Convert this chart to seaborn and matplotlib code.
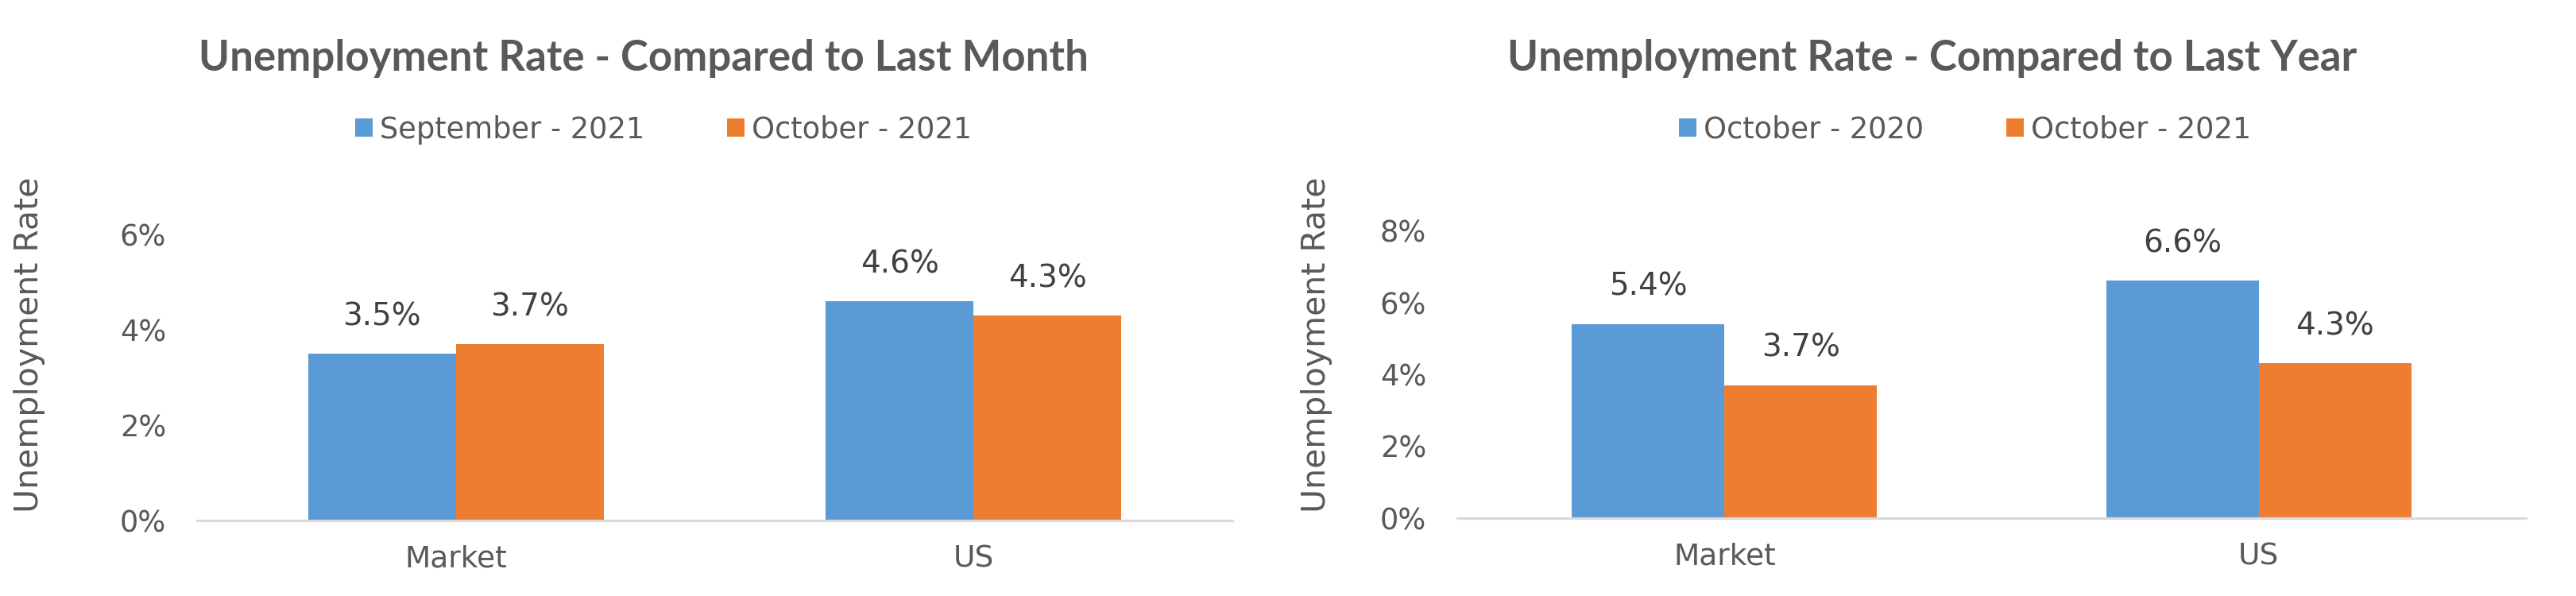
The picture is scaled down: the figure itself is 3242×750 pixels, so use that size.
import numpy as np
import pandas as pd
import matplotlib
matplotlib.use("Agg")
import matplotlib.pyplot as plt
import seaborn as sns

# data (percent)
areas = ["Market", "US"]

month_title = "Unemployment Rate - Compared to Last Month"
month_periods = ["September - 2021", "October - 2021"]
month_prev = [3.5, 4.6]
month_curr = [3.7, 4.3]
month_ticks = [0, 2, 4, 6]

year_title = "Unemployment Rate - Compared to Last Year"
year_periods = ["October - 2020", "October - 2021"]
year_prev = [5.4, 6.6]
year_curr = [3.7, 4.3]
year_ticks = [0, 2, 4, 6, 8]

BLUE = "#5B9BD5"
ORANGE = "#ED7D31"
GREY = "#595959"
DARK = "#404040"
AXIS = "#D9D9D9"

sns.set_style("white")
plt.rcParams["font.family"] = ["DejaVu Sans"]

W, H = 3242, 750
fig = plt.figure(figsize=(W / 100, H / 100), dpi=100)


def panel(rect, title, title_x, legend_x, periods, prev, curr, ticks, ylabel_x):
    ax = fig.add_axes(rect)
    df = pd.DataFrame({
        "area": areas * 2,
        "period": [periods[0]] * len(areas) + [periods[1]] * len(areas),
        "rate": list(prev) + list(curr),
    })
    sns.barplot(data=df, x="area", y="rate", hue="period", hue_order=periods,
                palette=[BLUE, ORANGE], saturation=1, width=2 / 3.5,
                ax=ax, errorbar=None, linewidth=0, edgecolor="none")
    ax.set_xlim(-0.5, len(areas) - 0.5)
    ax.set_ylim(0, ticks[-1])
    ax.set_yticks(ticks)
    ax.set_yticklabels([f"{t}%" for t in ticks])
    ax.set_xlabel("")
    ax.set_ylabel("")
    for s in ["top", "right", "left"]:
        ax.spines[s].set_visible(False)
    ax.spines["bottom"].set_color(AXIS)
    ax.spines["bottom"].set_linewidth(2.3)
    ax.tick_params(axis="y", length=0, pad=28, labelsize=26.5, labelcolor=GREY)
    ax.tick_params(axis="x", length=0, pad=22, labelsize=27, labelcolor=GREY)

    for cont in ax.containers:
        ax.bar_label(cont, labels=[f"{b.get_height():.1f}%" for b in cont],
                     padding=20, fontsize=28, color=DARK)

    handles, labels = ax.get_legend_handles_labels()
    ax.legend(handles, labels, loc="center", ncol=2, frameon=False,
              bbox_to_anchor=(legend_x / W, 1 - 163 / H),
              bbox_transform=fig.transFigure, fontsize=26.5,
              handlelength=0.6, handleheight=0.6, handletextpad=0.25,
              columnspacing=2.8, labelcolor=GREY)

    fig.text(title_x / W, 1 - 89 / H, title, ha="center", va="baseline",
             fontsize=38, fontweight="bold", family=["Lato", "DejaVu Sans"],
             color=GREY)
    fig.text(ylabel_x / W, 1 - 434 / H, "Unemployment Rate", rotation=90,
             ha="center", va="center", fontsize=29.5, color=GREY)
    return ax


panel([248 / W, 95 / H, 1303 / W, 360 / H], month_title, 810, 835,
      month_periods, month_prev, month_curr, month_ticks, 37)
panel([1834 / W, 98 / H, 1345 / W, 362 / H], year_title, 2432, 2473,
      year_periods, year_prev, year_curr, year_ticks, 1657)

fig.savefig("out.png", dpi=100)
